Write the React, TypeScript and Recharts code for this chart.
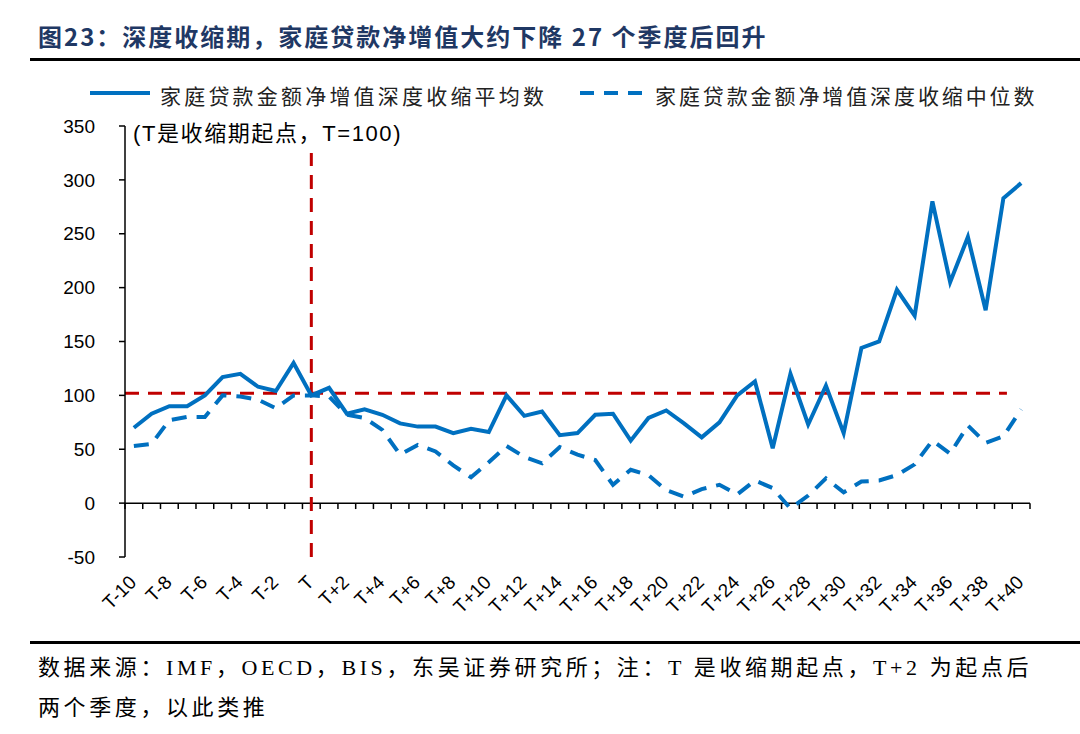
import { LineChart, Line, XAxis, YAxis, ReferenceLine } from 'recharts'

const categories = [
  'T-10', 'T-9', 'T-8', 'T-7', 'T-6', 'T-5', 'T-4', 'T-3', 'T-2', 'T-1', 'T',
  'T+1', 'T+2', 'T+3', 'T+4', 'T+5', 'T+6', 'T+7', 'T+8', 'T+9', 'T+10',
  'T+11', 'T+12', 'T+13', 'T+14', 'T+15', 'T+16', 'T+17', 'T+18', 'T+19', 'T+20',
  'T+21', 'T+22', 'T+23', 'T+24', 'T+25', 'T+26', 'T+27', 'T+28', 'T+29', 'T+30',
  'T+31', 'T+32', 'T+33', 'T+34', 'T+35', 'T+36', 'T+37', 'T+38', 'T+39', 'T+40',
]

// 家庭贷款金额净增值深度收缩平均数
const meanValues = [
  70, 83, 90, 90, 100, 117, 120, 108, 104, 130, 100,
  107, 83, 87, 82, 74, 71, 71, 65, 69, 66,
  100, 81, 85, 63, 65, 82, 83, 58, 79, 86,
  74, 61, 75, 100, 113, 51, 120, 73, 109, 65,
  144, 150, 198, 174, 280, 205, 247, 179, 283, 297,
]

// 家庭贷款金额净增值深度收缩中位数
const medianValues = [
  53, 55, 77, 80, 80, 100, 99, 96, 88, 100, 100,
  99, 82, 79, 68, 45, 54, 48, 35, 24, 38,
  53, 43, 37, 52, 45, 40, 17, 31, 26, 12,
  6, 13, 17, 8, 21, 14, -5, 7, 23, 10,
  20, 21, 26, 36, 58, 46, 72, 56, 62, 87,
]

const yTicks = [-50, 0, 50, 100, 150, 200, 250, 300, 350]
const baseLevel = 102

const data = categories.map((c, i) => ({ idx: i, name: c, mean: meanValues[i], median: medianValues[i] }))
const labelTicks = categories.map((_, i) => i).filter(i => i % 2 === 0)
const boundaries = [...categories.map((_, i) => i - 0.5), categories.length - 0.5]

const BLUE = '#0070C0'
const RED = '#C00000'
const SANS = "'Liberation Sans', Arial, 'Noto Sans CJK SC', sans-serif"
const SERIF = "'Liberation Serif', 'Noto Sans CJK SC', serif"

export default function App() {
  return (
    <div style={{ position: 'absolute', left: 0, top: 0, width: 1080, height: 734, background: '#fff', overflow: 'hidden' }}>
      {/* title */}
      <div style={{ position: 'absolute', left: 38, top: 18, fontSize: 24, fontWeight: 700, color: '#1F3864', fontFamily: "'Noto Sans CJK SC', sans-serif", letterSpacing: 2, whiteSpace: 'nowrap' }}>
        图23：深度收缩期，家庭贷款净增值大约下降 27 个季度后回升
      </div>
      <div style={{ position: 'absolute', left: 30, top: 58, width: 1050, height: 3, background: '#000' }} />

      {/* legend */}
      <svg style={{ position: 'absolute', left: 0, top: 80 }} width={1080} height={26}>
        <line x1={90} y1={13} x2={150} y2={13} stroke={BLUE} strokeWidth={4} />
        <line x1={580} y1={13} x2={648} y2={13} stroke={BLUE} strokeWidth={4} strokeDasharray="14 10" />
      </svg>
      <div style={{ position: 'absolute', left: 160, top: 80, fontSize: 21, letterSpacing: 3.2, color: '#222', fontFamily: SERIF, whiteSpace: 'nowrap' }}>
        家庭贷款金额净增值深度收缩平均数
      </div>
      <div style={{ position: 'absolute', left: 655, top: 80, fontSize: 21, letterSpacing: 2.9, color: '#222', fontFamily: SERIF, whiteSpace: 'nowrap' }}>
        家庭贷款金额净增值深度收缩中位数
      </div>

      <div style={{ position: 'absolute', left: 0, top: 0 }}>
        <LineChart width={1080} height={640} data={data} margin={{ top: 126, right: 50, bottom: 0, left: 0 }}>
          <XAxis
            type="number"
            dataKey="idx"
            domain={[-0.5, categories.length - 0.5]}
            ticks={labelTicks}
            interval={0}
            tickFormatter={(v: number) => categories[v]}
            angle={-45}
            textAnchor="end"
            tickLine={false}
            axisLine={false}
            tickSize={0}
            tickMargin={17}
            height={83}
            tick={{ fontSize: 19, fill: '#000', fontFamily: SANS, dx: -6 }}
          />
          <YAxis
            domain={[-50, 350]}
            ticks={yTicks}
            interval={0}
            width={125}
            tickSize={6}
            tickMargin={24}
            axisLine={{ stroke: '#000', strokeWidth: 1.5 }}
            tickLine={{ stroke: '#000', strokeWidth: 1.5 }}
            tick={{ fontSize: 19, fill: '#000', fontFamily: SANS }}
          />
          <ReferenceLine y={0} stroke="#000" strokeWidth={1.5} />
          {boundaries.map(b => (
            <ReferenceLine key={b} segment={[{ x: b, y: 0 }, { x: b, y: -5.5 }]} stroke="#000" strokeWidth={1.5} ifOverflow="visible" />
          ))}
          <ReferenceLine
            segment={[{ x: -0.5, y: baseLevel }, { x: 49.2, y: baseLevel }]}
            stroke={RED}
            strokeWidth={3}
            strokeDasharray="14 9"
          />
          <ReferenceLine x={10} stroke={RED} strokeWidth={3} strokeDasharray="14 9" />
          <Line type="linear" dataKey="mean" stroke={BLUE} strokeWidth={4} dot={false} isAnimationActive={false} />
          <Line type="linear" dataKey="median" stroke={BLUE} strokeWidth={4} strokeDasharray="15 10" dot={false} isAnimationActive={false} />
        </LineChart>
      </div>

      <div style={{ position: 'absolute', left: 131, top: 115, padding: '0 2px 6px 2px', background: '#fff', fontSize: 22, letterSpacing: 1.6, color: '#000', fontFamily: SANS, whiteSpace: 'nowrap' }}>
        (T是收缩期起点，T=100)
      </div>

      {/* footer */}
      <div style={{ position: 'absolute', left: 30, top: 641, width: 1050, height: 3, background: '#000' }} />
      <div style={{ position: 'absolute', left: 38, top: 648, fontSize: 22, lineHeight: '40px', color: '#000', fontFamily: SERIF, letterSpacing: 3.6, width: 1042, whiteSpace: 'nowrap' }}>
        数据来源：IMF，OECD，BIS，东吴证券研究所；注：T 是收缩期起点，T+2 为起点后<br />两个季度，以此类推
      </div>
    </div>
  )
}
